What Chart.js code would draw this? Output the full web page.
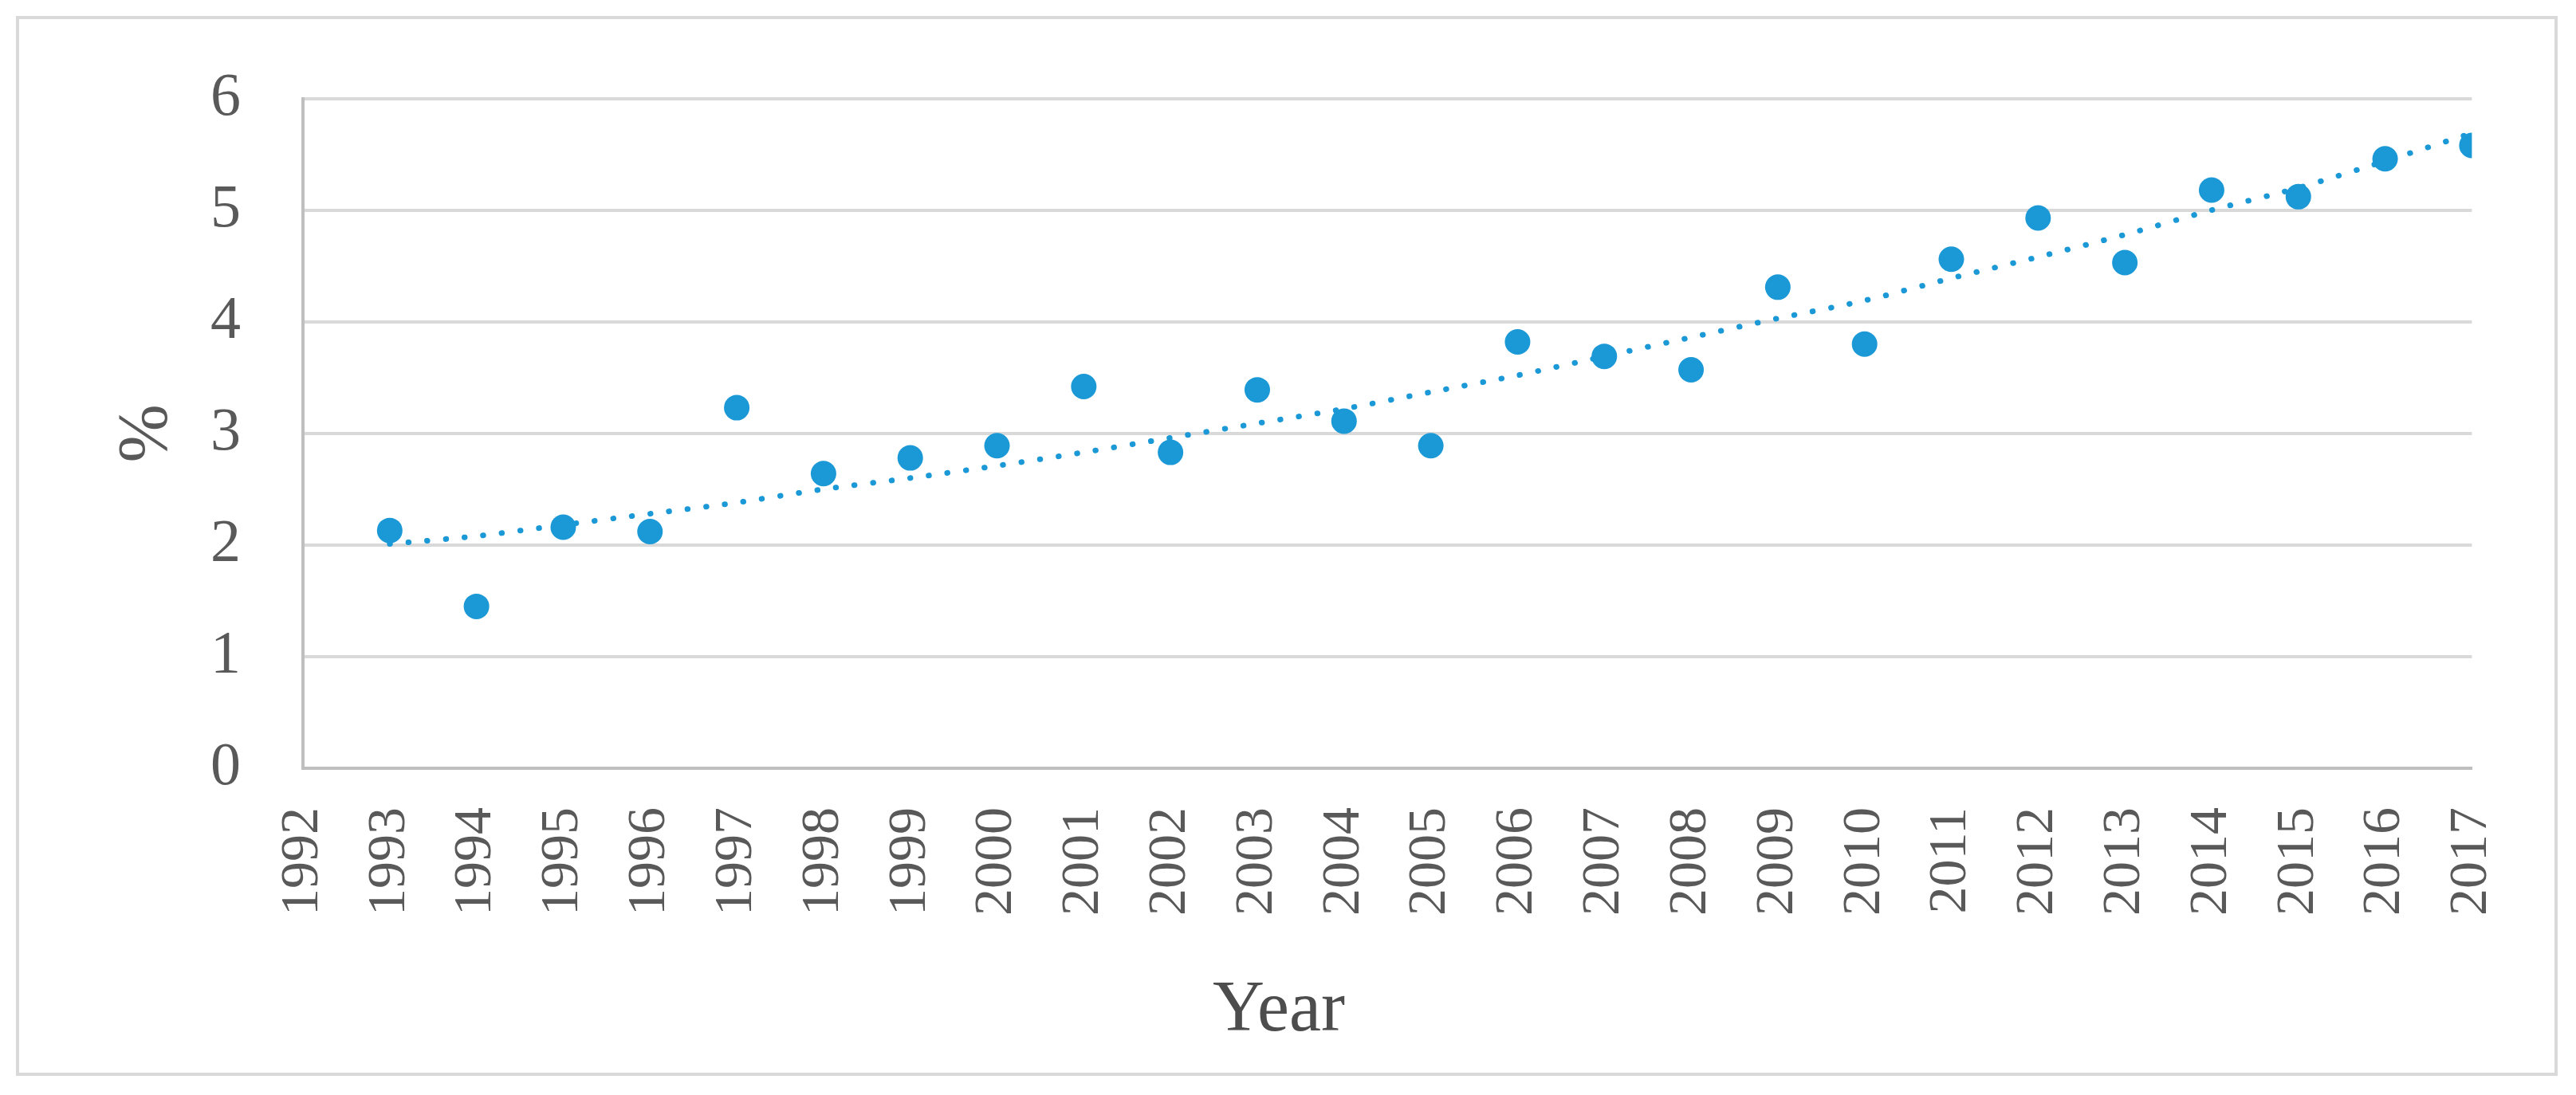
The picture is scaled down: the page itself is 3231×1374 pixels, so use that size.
<!DOCTYPE html>
<html>
<head>
<meta charset="utf-8">
<script src="https://cdn.jsdelivr.net/npm/chart.js@4.4.1/dist/chart.umd.min.js"></script>
<style>
  html, body { margin: 0; padding: 0; background: #ffffff; }
  #frame { position: absolute; left: 20px; top: 20px; width: 3188px; height: 1330px;
           box-sizing: border-box; border: 4px solid #d9d9d9; }
  #wrap { position: absolute; left: 0; top: 0; width: 3231px; height: 1374px; }
</style>
</head>
<body>
<div id="frame"></div>
<div id="wrap"><canvas id="c" width="3231" height="1374"></canvas></div>
<script>
const years = [1993, 1994, 1995, 1996, 1997, 1998, 1999, 2000, 2001, 2002, 2003, 2004, 2005,
               2006, 2007, 2008, 2009, 2010, 2011, 2012, 2013, 2014, 2015, 2016, 2017];
const rates = [2.13, 1.45, 2.16, 2.12, 3.23, 2.64, 2.78, 2.89, 3.42, 2.83, 3.39, 3.11, 2.89,
               3.82, 3.69, 3.57, 4.31, 3.80, 4.56, 4.93, 4.53, 5.18, 5.12, 5.46, 5.58];
const trend = [2.01, 2.08, 2.18, 2.28, 2.38, 2.50, 2.60, 2.71, 2.83, 2.96, 3.09, 3.22, 3.37,
               3.52, 3.69, 3.86, 4.03, 4.19, 4.39, 4.58, 4.78, 5.00, 5.20, 5.44, 5.69];
const xMin = 1992, xMax = 2017;
const yTicks = [0, 1, 2, 3, 4, 5, 6];
const xTitle = 'Year';
const yTitle = '%';

const blue = '#1b98d6';
const serif = "'Liberation Serif', 'DejaVu Serif', serif";

const ptData = years.map((y, i) => ({ x: y, y: rates[i] }));
const trData = years.map((y, i) => ({ x: y, y: trend[i] }));

new Chart(document.getElementById('c'), {
  type: 'scatter',
  data: {
    datasets: [
      {
        label: 'trend',
        data: trData,
        showLine: true,
        borderColor: blue,
        borderWidth: 7,
        borderDash: [0.5, 23],
        borderCapStyle: 'round',
        pointRadius: 0,
        fill: false,
        tension: 0.3,
        order: 0
      },
      {
        label: 'rate',
        data: ptData,
        showLine: false,
        pointRadius: 16,
        pointBackgroundColor: blue,
        pointBorderColor: blue,
        pointBorderWidth: 0,
        order: 1
      }
    ]
  },
  options: {
    responsive: false,
    devicePixelRatio: 1,
    animation: false,
    layout: { padding: { left: 100, right: 123, top: 114, bottom: 60 } },
    plugins: {
      legend: { display: false },
      tooltip: { enabled: false },
      title: {
        display: true,
        position: 'bottom',
        text: xTitle,
        color: '#4d4d4d',
        font: { family: serif, size: 90, weight: 'normal', lineHeight: 1 },
        padding: { top: 0, bottom: 0 }
      }
    },
    scales: {
      x: {
        type: 'linear',
        min: xMin,
        max: xMax,
        afterFit: (s) => { s.height = 260; },
        grid: { display: false, drawTicks: false },
        border: { display: true, color: '#bfbfbf', width: 4 },
        ticks: {
          stepSize: 1,
          autoSkip: false,
          minRotation: 90,
          maxRotation: 90,
          padding: 49,
          color: '#595959',
          font: { family: serif, size: 68 },
          callback: (v) => String(v)
        }
      },
      y: {
        min: 0,
        max: 6,
        afterFit: (s) => { s.width = 280; },
        afterBuildTicks: (s) => { s.ticks = yTicks.map(v => ({ value: v })); },
        grid: { color: '#d9d9d9', lineWidth: 4, drawTicks: false },
        border: { display: true, color: '#bfbfbf', width: 4 },
        ticks: {
          stepSize: 1,
          padding: 78,
          color: '#595959',
          font: { family: serif, size: 76 },
          callback: (v) => String(v)
        },
        title: {
          display: true,
          text: yTitle,
          color: '#595959',
          font: { family: serif, size: 88, lineHeight: 1 },
          padding: { top: 41, bottom: 0 }
        }
      }
    }
  }
});
</script>
</body>
</html>
